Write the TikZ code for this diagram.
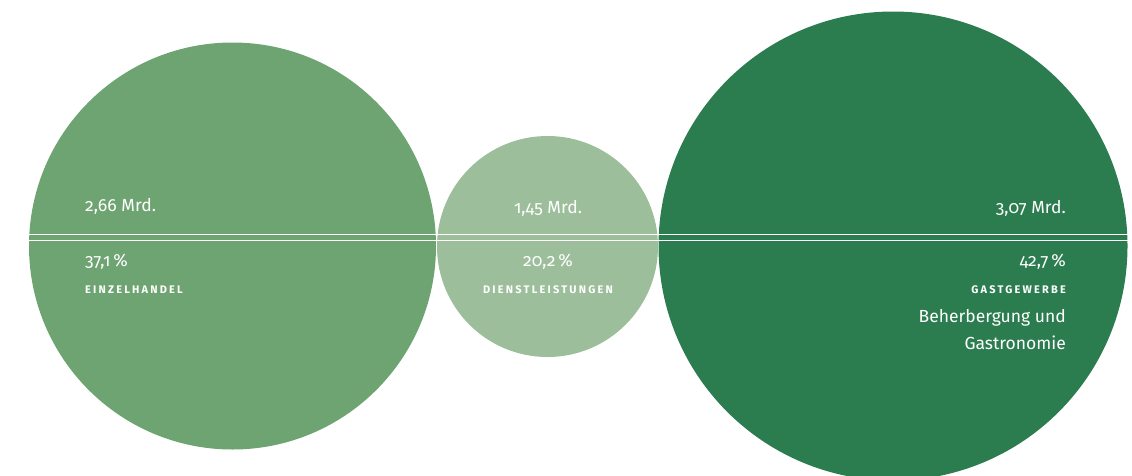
\documentclass[tikz,border=0pt]{standalone}
\usepackage{fontspec}
\setmainfont[Numbers=OldStyle]{Fira Sans}
\definecolor{handel}{HTML}{6EA471}
\definecolor{dienst}{HTML}{9DBE9B}
\definecolor{gast}{HTML}{2B7D4F}
\tikzset{
  wert/.style={text=white, font=\fontsize{17.5}{20}\selectfont, inner sep=0pt},
  branche/.style={text=white, font=\fontsize{11}{13}\selectfont\bfseries\addfontfeatures{LetterSpace=20}, inner sep=0pt},
}
\begin{document}
\begin{tikzpicture}[x=1pt, y=-1pt]
\useasboundingbox (0,0) rectangle (1132,475);
\clip (0,0) rectangle (1132,475);
% Kreise
\fill[handel] (232.5,246) circle (203.5);
\fill[dienst] (547.5,246.5) circle (110.5);
\fill[gast] (893,246) circle (234.5);
% Trennlinien
\draw[white, line width=1pt] (29,234.5) -- (1128,234.5);
\draw[white, line width=1pt] (29,240.5) -- (1128,240.5);
% Einzelhandel
\node[wert, anchor=base west] (handelmrd) at (85,211) {2,66 Mrd.};
\node[wert, anchor=base west] (handelproz) at (85,266) {37,1\,\%};
\node[branche, anchor=base west] (handelname) at (85,293) {EINZELHANDEL};
% Dienstleistungen
\node[wert, anchor=base] (dienstmrd) at (548,213) {1,45 Mrd.};
\node[wert, anchor=base] (dienstproz) at (548,266) {20,2\,\%};
\node[branche, anchor=base] (dienstname) at (548,293) {DIENSTLEISTUNGEN};
% Gastgewerbe
\node[wert, anchor=base east] (gastmrd) at (1066,213) {3,07 Mrd.};
\node[wert, anchor=base east] (gastproz) at (1066,266) {42,7\,\%};
\node[branche, anchor=base east] (gastname) at (1066,293) {GASTGEWERBE};
\node[wert, anchor=base east] (gastzeile1) at (1066,322) {Beherbergung und};
\node[wert, anchor=base east] (gastzeile2) at (1066,349) {Gastronomie};
\end{tikzpicture}
\end{document}
